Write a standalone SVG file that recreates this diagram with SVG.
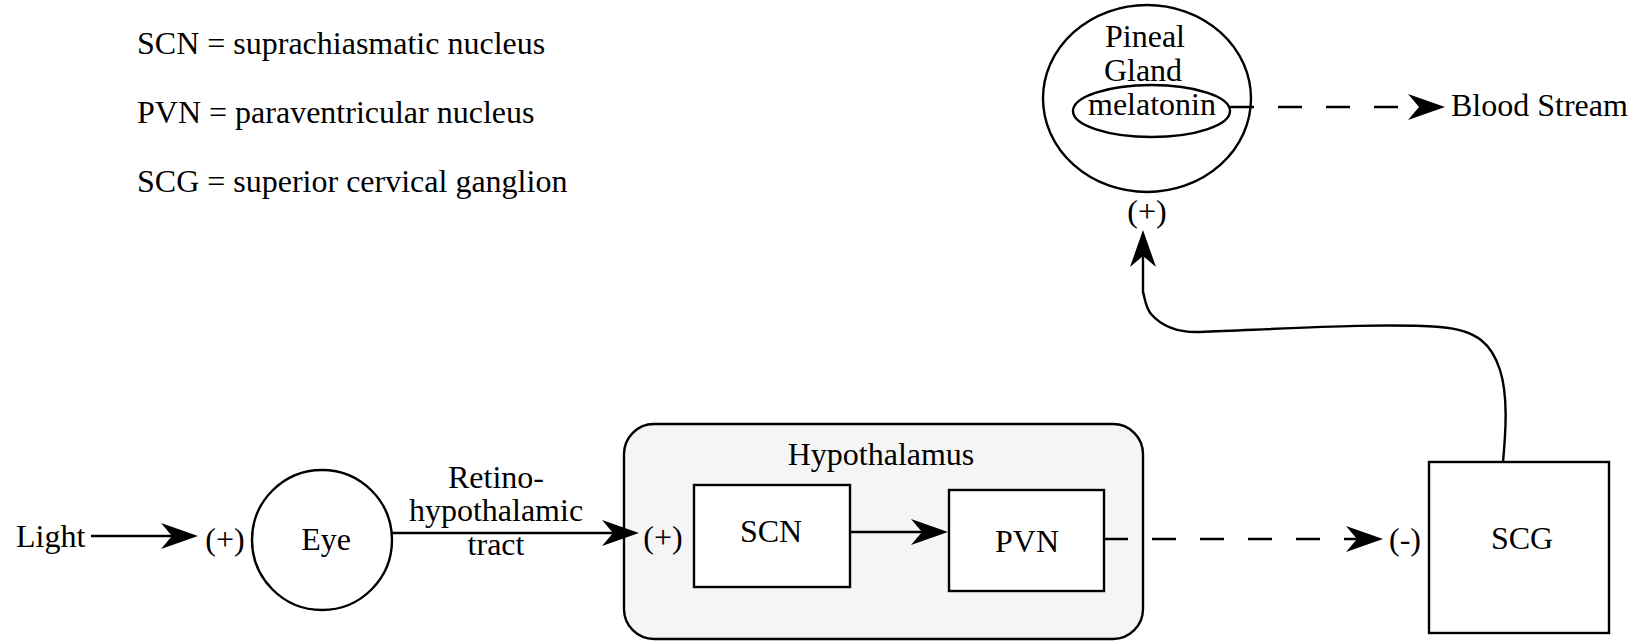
<svg xmlns="http://www.w3.org/2000/svg" width="1634" height="641" viewBox="0 0 1634 641">
<style>
text{font-family:"Liberation Serif","Times New Roman",serif;font-size:32px;fill:#000}
.c{text-anchor:middle}
.shape{fill:#fff;stroke:#000;stroke-width:2.4}
.edge{fill:none;stroke:#000;stroke-width:2.4}
.dash{stroke-dasharray:24 24}
</style>
<defs>
<marker id="arr" viewBox="0 0 37 26" refX="11" refY="13" markerWidth="37" markerHeight="26" markerUnits="userSpaceOnUse" orient="auto">
<path d="M0,0 L37,13 L0,26 L11,13 Z" fill="#000"/>
</marker>
</defs>
<g id="legend">
<text x="137" y="54">SCN = suprachiasmatic nucleus</text>
<text x="137" y="123">PVN = paraventricular nucleus</text>
<text x="137" y="192">SCG = superior cervical ganglion</text>
</g>
<g id="light"><text x="16" y="547">Light</text></g>
<g id="eye">
<circle class="shape" cx="322" cy="540" r="70"/>
<text class="c" x="326" y="550">Eye</text>
</g>
<g id="hypothalamus">
<rect x="624" y="424" width="519" height="215" rx="30" ry="30" fill="#f5f5f5" stroke="#000" stroke-width="2.4"/>
<text class="c" x="881" y="465">Hypothalamus</text>
</g>
<g id="scn">
<rect class="shape" x="694" y="485" width="156" height="102"/>
<text class="c" x="771" y="542">SCN</text>
</g>
<g id="pvn">
<rect class="shape" x="949" y="490" width="155" height="101"/>
<text class="c" x="1027" y="552">PVN</text>
</g>
<g id="scg">
<rect class="shape" x="1429" y="462" width="180" height="171"/>
<text class="c" x="1522" y="549">SCG</text>
</g>
<g id="pineal">
<ellipse class="shape" cx="1147" cy="98.5" rx="104" ry="93.5"/>
<text class="c" x="1145" y="47">Pineal</text>
<text class="c" x="1143" y="81">Gland</text>
<ellipse class="shape" cx="1151.5" cy="111" rx="78.5" ry="26"/>
<text class="c" x="1152" y="115">melatonin</text>
</g>
<g id="bloodstream"><text x="1451" y="116">Blood Stream</text></g>
<g id="connectors">
<line class="edge" x1="91" y1="536" x2="172" y2="536" marker-end="url(#arr)"/>
<line class="edge" x1="392" y1="533" x2="613" y2="533" marker-end="url(#arr)"/>
<line class="edge" x1="850" y1="532" x2="922" y2="532" marker-end="url(#arr)"/>
<line class="edge dash" x1="1104" y1="539" x2="1357" y2="539" marker-end="url(#arr)"/>
<line class="edge dash" x1="1230" y1="107" x2="1419" y2="107" marker-end="url(#arr)"/>
<path class="edge" d="M1503,462 C1506,430 1508,395 1500,370 C1492,345 1478,330 1440,327 C1380,323 1300,328 1200,332 C1172,333 1158,322 1151,314 C1145,306 1145,298 1143,292 L1143,256" marker-end="url(#arr)"/>
</g>
<g id="labels">
<text class="c" x="225" y="550">(+)</text>
<text class="c" x="496" y="488">Retino-</text>
<text class="c" x="496" y="521">hypothalamic</text>
<text class="c" x="496" y="555">tract</text>
<text class="c" x="663" y="548">(+)</text>
<text class="c" x="1405" y="550">(-)</text>
<text class="c" x="1147" y="222">(+)</text>
</g>
</svg>
